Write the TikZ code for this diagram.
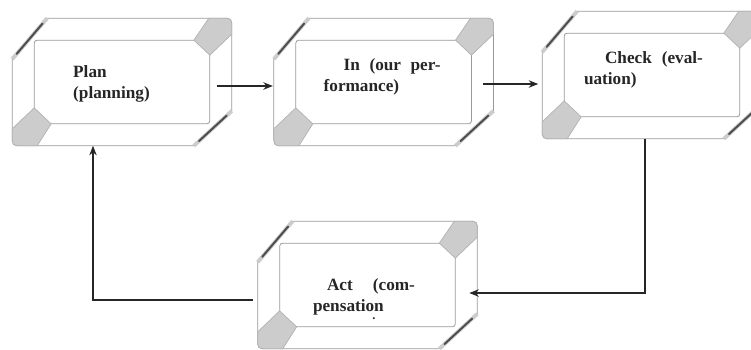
\documentclass[tikz,border=0pt]{standalone}
\usepackage{fontspec}
\setmainfont{Liberation Serif}
\usepackage{tikz}
\usetikzlibrary{arrows.meta, positioning, calc}

\tikzset{
  %% Bevelled box (outer size only, frame drawn by \bevelframe)
  bevel/.style={
    rectangle, draw=none,
    minimum width=4.38cm, minimum height=2.54cm,
    inner sep=0pt
  },
  %% Thin grey rim lines
  rim/.style={draw=black!40, line width=0.45pt},
  %% Grey corner face
  litface/.style={fill=black!20, draw=black!30, line width=0.4pt},
  %% Dark corner edge
  dkrim/.style={draw=black!70, line width=1.1pt, line cap=round},
  %% Box label
  lbl/.style={
    font=\fontsize{9.8}{12}\selectfont\bfseries,
    text=black!85, align=left, inner sep=0pt
  },
  %% Arrow
  arr/.style={-{Stealth[length=0.19cm,width=0.15cm]},
              draw=black!85, line width=0.7pt},
}

%% Frame of a bevelled box round node #1
\newcommand{\bevelframe}[1]{%
  \draw[rim] ([shift={(0,41)}]#1.north west) -- ([shift={(35,0)}]#1.north west)
    -- ([shift={(-11,0)}]#1.north east) .. controls (#1.north east) .. ([shift={(0,11)}]#1.north east)
    -- ([shift={(0,-35)}]#1.south east) -- ([shift={(-38,0)}]#1.south east)
    -- ([shift={(11,0)}]#1.south west) .. controls (#1.south west) .. ([shift={(0,-11)}]#1.south west)
    -- cycle;
  \draw[rim, rounded corners=0.06cm] ([shift={(22,22)}]#1.north west)
    rectangle ([shift={(-22,-22)}]#1.south east);
  \draw[litface] ([shift={(-23,0)}]#1.north east) -- ([shift={(-11,0)}]#1.north east)
    .. controls (#1.north east) .. ([shift={(0,11)}]#1.north east)
    -- ([shift={(0,16)}]#1.north east) -- ([shift={(-22,37)}]#1.north east)
    -- ([shift={(-38,22)}]#1.north east) -- cycle;
  \draw[litface] ([shift={(25,0)}]#1.south west) -- ([shift={(11,0)}]#1.south west)
    .. controls (#1.south west) .. ([shift={(0,-11)}]#1.south west)
    -- ([shift={(0,-17)}]#1.south west) -- ([shift={(22,-38)}]#1.south west)
    -- ([shift={(39,-22)}]#1.south west) -- cycle;
  \draw[rim, draw=black!20, line width=2.2pt]
    ([shift={(0,41)}]#1.north west) -- ([shift={(35,0)}]#1.north west);
  \draw[dkrim, shorten <=0.14cm, shorten >=0.14cm]
    ([shift={(0,41)}]#1.north west) -- ([shift={(35,0)}]#1.north west);
  \draw[rim, draw=black!20, line width=2.2pt]
    ([shift={(0,-35)}]#1.south east) -- ([shift={(-38,0)}]#1.south east);
  \draw[dkrim, shorten <=0.14cm, shorten >=0.14cm]
    ([shift={(0,-35)}]#1.south east) -- ([shift={(-38,0)}]#1.south east);
}

\begin{document}
\begin{tikzpicture}[x=0.02cm, y=-0.02cm,
                    every node/.style={font=\small}]

  \clip (0,0) rectangle (751,349);

  \node[bevel] (plan) at (122,82) {};
  \node[bevel, right=0.84cm of plan] (perf) {};
  \node[bevel] (check) at (652,75) {};
  \node[bevel] (act) at (367.5,285) {};

  \bevelframe{plan}
  \bevelframe{perf}
  \bevelframe{check}
  \bevelframe{act}

  \node[lbl] (planT) at ([shift={(-10.5,2)}]plan.center)
       {Plan\\(planning)};

  \node[lbl, text width=2.34cm] (perfT) at ([shift={(-1.5,-5)}]perf.center)
       {\hspace*{0.4cm}\makebox[1.94cm][l]{In\hfill (our\hfill per-}\\formance)};

  \node[lbl, text width=2.38cm] (checkT) at ([shift={(-8.5,-5)}]check.center)
       {\hspace*{0.42cm}\makebox[1.96cm][l]{Check\hfill (eval-}\\uation)};

  \node[lbl, text width=2.04cm] (actT) at ([shift={(-3.5,12)}]act.center)
       {\hspace*{0.28cm}\makebox[1.76cm][l]{Act\hfill (com-}\\pensation};

  \node[lbl, font=\scriptsize\bfseries] (actDot) at ([shift={(6.5,34)}]act.center) {.};

  \draw[arr] ([shift={(-15,4)}]plan.east) -- ([shift={(-1,4)}]perf.west);
  \draw[arr] ([shift={(-10,2)}]perf.east) -- ([shift={(-4,9)}]check.west);
  \draw[arr] ([shift={(-7,0)}]check.south) |- ([shift={(-8,8)}]act.east);
  \draw[arr] ([shift={(-5,15)}]act.west) -| ([shift={(-29,0)}]plan.south);

\end{tikzpicture}
\end{document}
